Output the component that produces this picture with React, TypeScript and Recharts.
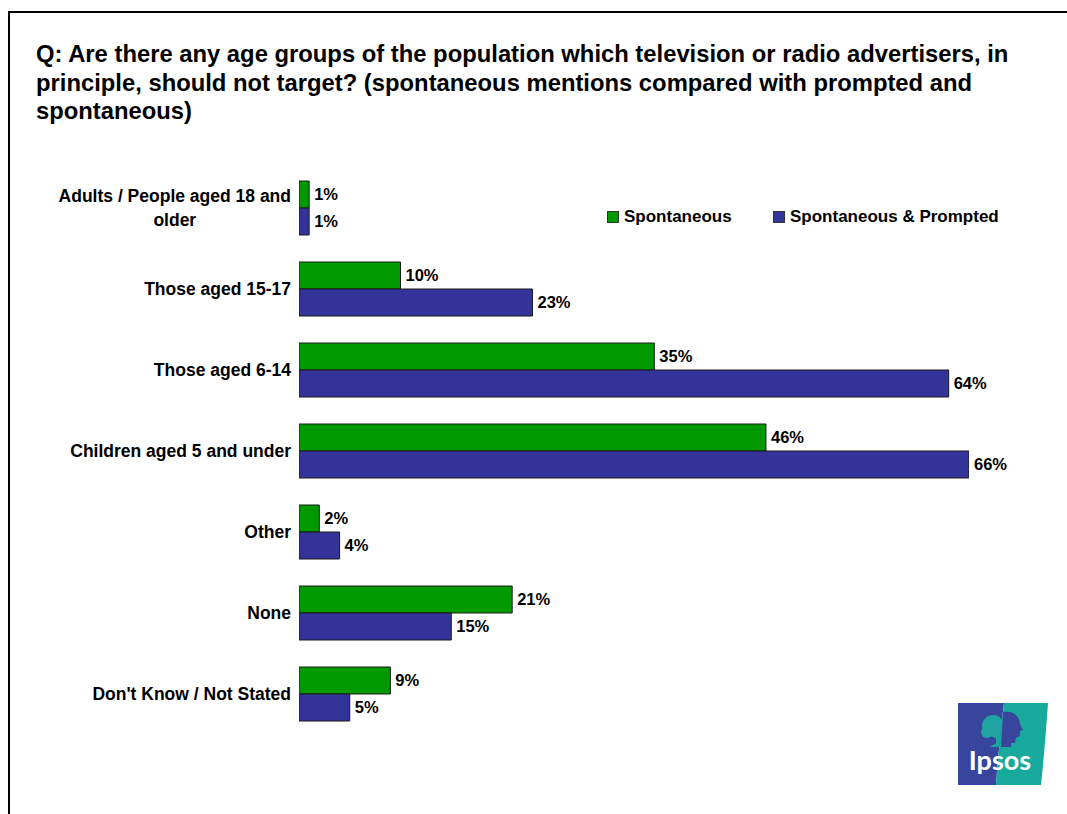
import React from "react";
import { BarChart, Bar, XAxis, YAxis, LabelList } from "recharts";

// Survey answers, in percent of respondents
const categories = [
  "Adults / People aged 18 and older",
  "Those aged 15-17",
  "Those aged 6-14",
  "Children aged 5 and under",
  "Other",
  "None",
  "Don't Know / Not Stated",
];
const spontaneous = [1, 10, 35, 46, 2, 21, 9];
const spontaneousPrompted = [1, 23, 64, 66, 4, 15, 5];
const seriesNames = ["Spontaneous", "Spontaneous & Prompted"];
const titleLines = [
  "Q: Are there any age groups of the population which television or radio advertisers, in",
  "principle, should not target? (spontaneous mentions compared with prompted and",
  "spontaneous)",
];

const GREEN = "#009900";
const BLUE = "#333399";
const FONT = "Arial, 'Liberation Sans', Helvetica, sans-serif";

const data = categories.map((name, i) => ({
  name,
  spont: spontaneous[i],
  prompted: spontaneousPrompted[i],
}));

const W = 1067;
const H = 814;

let measureCtx: CanvasRenderingContext2D | null = null;
function textWidth(s: string, font: string): number {
  if (!measureCtx) {
    const c = document.createElement("canvas");
    measureCtx = c.getContext("2d");
  }
  if (!measureCtx) return s.length * 9;
  measureCtx.font = font;
  return measureCtx.measureText(s).width;
}

const LABEL_FONT_SIZE = 17.5;
const LABEL_FONT = `bold ${LABEL_FONT_SIZE}px Arial, 'Liberation Sans', sans-serif`;

function wrap(s: string, maxW: number): string[] {
  const words = s.split(" ");
  const lines: string[] = [];
  let cur = "";
  for (const w of words) {
    const t = cur ? cur + " " + w : w;
    if (cur && textWidth(t, LABEL_FONT) > maxW) {
      lines.push(cur);
      cur = w;
    } else {
      cur = t;
    }
  }
  if (cur) lines.push(cur);
  return lines;
}

function CategoryTick(props: any) {
  const { x, y, payload } = props;
  const lines = wrap(String(payload.value), 240);
  const common = {
    fontFamily: FONT,
    fontSize: LABEL_FONT_SIZE,
    fontWeight: 700,
    fill: "#000",
  };
  if (lines.length === 1) {
    return (
      <text x={x} y={y} dy="0.36em" textAnchor="end" {...common}>
        {lines[0]}
      </text>
    );
  }
  const maxW = Math.max(...lines.map((l) => textWidth(l, LABEL_FONT)));
  const cx = x - maxW / 2;
  const lh = 24;
  const y0 = y - ((lines.length - 1) * lh) / 2;
  return (
    <g>
      {lines.map((l, i) => (
        <text key={i} x={cx} y={y0 + i * lh} dy="0.36em" textAnchor="middle" {...common}>
          {l}
        </text>
      ))}
    </g>
  );
}

function IpsosLogo() {
  return (
    <svg
      width={92}
      height={84}
      style={{ position: "absolute", left: 957, top: 702 }}
      viewBox="0 0 92 84"
    >
      <path d="M1 1 L47 1 Q42 40 39 83 L1 83 Z" fill="#38459c" />
      <path d="M47 1 L91 1 Q88 45 84 83 L39 83 Q42 40 47 1 Z" fill="#17a99c" />
      {/* tree crown and trunk on the blue half */}
      <circle cx={36} cy={24} r={11} fill="#1fa3a0" />
      <circle cx={30} cy={30} r={6} fill="#1fa3a0" />
      <circle cx={41} cy={31} r={6} fill="#1fa3a0" />
      <rect x={39} y={32} width={4} height={12} fill="#1fa3a0" />
      <path d="M33 45 Q41 38 45 45 Z" fill="#1fa3a0" />
      {/* face profile on the teal half */}
      <path
        d="M46 10 Q61 8 63 22 L66 28 L63 29 Q64 35 59 36 L58 41 L54 41 L54 45 L44 45 Z"
        fill="#38459c"
      />
      <text
        x={43}
        y={68}
        textAnchor="middle"
        fontFamily="Lato, 'Open Sans', sans-serif"
        fontWeight={700}
        fontSize={27}
        fill="#fff"
      >
        Ipsos
      </text>
    </svg>
  );
}

function LegendBox() {
  const items = [
    { name: seriesNames[0], color: GREEN, left: 607 },
    { name: seriesNames[1], color: BLUE, left: 773 },
  ];
  return (
    <>
      {items.map((it) => (
        <div
          key={it.name}
          style={{
            position: "absolute",
            left: it.left,
            top: 207,
            height: 20,
            display: "flex",
            alignItems: "center",
            fontFamily: FONT,
            fontWeight: 700,
            fontSize: 17,
            color: "#000",
            whiteSpace: "nowrap",
          }}
        >
          <span
            style={{
              display: "inline-block",
              width: 10,
              height: 10,
              background: it.color,
              border: "1px solid #333",
              marginRight: 5,
            }}
          />
          {it.name}
        </div>
      ))}
    </>
  );
}

export default function App() {
  return (
    <div
      style={{
        position: "absolute",
        left: 0,
        top: 0,
        width: W,
        height: H,
        background: "#fff",
        overflow: "hidden",
      }}
    >
      {/* slide frame: top and left rule */}
      <div style={{ position: "absolute", left: 8, top: 11, width: W - 8, height: 2, background: "#000" }} />
      <div style={{ position: "absolute", left: 8, top: 11, width: 2, height: H - 11, background: "#000" }} />

      <div
        style={{
          position: "absolute",
          left: 36,
          top: 40,
          fontFamily: FONT,
          fontWeight: 700,
          fontSize: 23.8,
          lineHeight: "28.5px",
          color: "#000",
          whiteSpace: "nowrap",
        }}
      >
        {titleLines.map((l, i) => (
          <div key={i}>{l}</div>
        ))}
      </div>

      <div style={{ position: "absolute", left: 0, top: 0 }}>
        <BarChart
          width={W}
          height={H}
          data={data}
          layout="vertical"
          margin={{ top: 167.5, right: 98, bottom: 79.5, left: 0 }}
          barCategoryGap={13.5}
          barGap={0}
        >
          <XAxis type="number" domain={[0, 66]} hide allowDataOverflow />
          <YAxis
            type="category"
            dataKey="name"
            width={299}
            axisLine={false}
            tickLine={false}
            tickSize={0}
            tickMargin={8}
            interval={0}
            tick={<CategoryTick />}
          />
          <Bar dataKey="spont" name={seriesNames[0]} fill={GREEN} stroke="#1a1a1a" strokeWidth={1} isAnimationActive={false}>
            <LabelList
              dataKey="spont"
              position="right"
              offset={5}
              formatter={(v: any) => `${v}%`}
              style={{ fontFamily: FONT, fontWeight: 700, fontSize: 16.5, fill: "#000" }}
            />
          </Bar>
          <Bar dataKey="prompted" name={seriesNames[1]} fill={BLUE} stroke="#1a1a1a" strokeWidth={1} isAnimationActive={false}>
            <LabelList
              dataKey="prompted"
              position="right"
              offset={5}
              formatter={(v: any) => `${v}%`}
              style={{ fontFamily: FONT, fontWeight: 700, fontSize: 16.5, fill: "#000" }}
            />
          </Bar>
        </BarChart>
      </div>

      <LegendBox />
      <IpsosLogo />
    </div>
  );
}
